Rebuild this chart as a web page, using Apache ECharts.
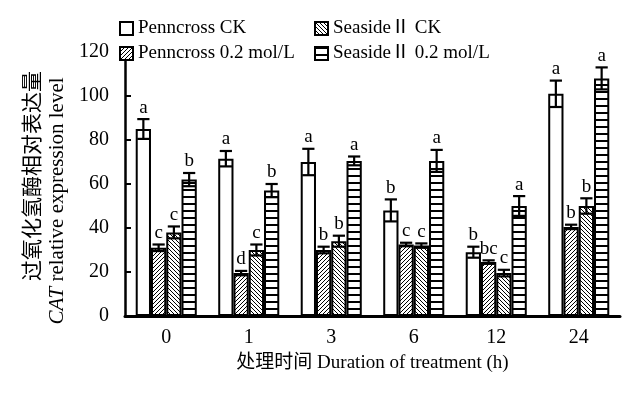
<!DOCTYPE html>
<html>
<head>
<meta charset="utf-8">
<script src="https://cdn.jsdelivr.net/npm/echarts@6/dist/echarts.min.js"></script>
<style>
  html, body { margin: 0; padding: 0; background: #fff; }
  #chart { width: 623px; height: 398px; }
</style>
</head>
<body>
<div id="chart"></div>
<script>
// 处理时间 (h)
const categories = ['0', '1', '3', '6', '12', '24'];
const seriesNames = ['Penncross CK', 'Penncross 0.2 mol/L', 'SeasideⅡ CK', 'SeasideⅡ 0.2 mol/L'];

// CAT 相对表达量
const penncrossCK = [85, 71.5, 70, 48, 29, 101];
const penncross02 = [31, 19.5, 30, 32.5, 24.5, 40.5];
const seasideCK = [38, 30, 34, 32, 19.5, 50];
const seaside02 = [62, 57, 70.5, 70.5, 50, 108];

// 误差
const penncrossCKErr = [4.5, 3.5, 6, 5, 2.5, 6];
const penncross02Err = [1.5, 1, 1.5, 0.8, 0.8, 1];
const seasideCKErr = [2.7, 2.5, 2.5, 1, 1.5, 3.5];
const seaside02Err = [3, 3, 2, 5, 4.5, 5];

// 显著性字母
const penncrossCKSig = ['a', 'a', 'a', 'b', 'b', 'a'];
const penncross02Sig = ['c', 'd', 'b', 'c', 'bc', 'b'];
const seasideCKSig = ['c', 'c', 'b', 'c', 'c', 'b'];
const seaside02Sig = ['b', 'b', 'a', 'a', 'a', 'a'];

const yTicks = [0, 20, 40, 60, 80, 100, 120];

const values = [penncrossCK, penncross02, seasideCK, seaside02];
const errs = [penncrossCKErr, penncross02Err, seasideCKErr, seaside02Err];
const sigs = [penncrossCKSig, penncross02Sig, seasideCKSig, seaside02Sig];

const serif = '"Liberation Serif", "Times New Roman", "Noto Sans CJK SC", serif';
const gapRatio = 0.26;

// 填充图案
function makePattern(kind) {
  if (kind === 'none') return '#fff';
  const s = kind === 'h' ? 7 : 4;
  const c = document.createElement('canvas');
  c.width = s; c.height = s;
  const ctx = c.getContext('2d');
  ctx.fillStyle = '#fff';
  ctx.fillRect(0, 0, s, s);
  ctx.fillStyle = '#000';
  for (let x = 0; x < s; x++) {
    for (let y = 0; y < s; y++) {
      let on = false;
      if (kind === 'fwd') on = (x + y) % s === 0;
      if (kind === 'back') on = (x - y + s) % s === 0;
      if (kind === 'h') on = y < 2;
      if (on) ctx.fillRect(x, y, 1, 1);
    }
  }
  return { image: c, repeat: 'repeat' };
}
const fills = [makePattern('none'), makePattern('fwd'), makePattern('back'), makePattern('h')];

let myChart = echarts.init(document.getElementById('chart'));

const barSeries = values.map((v, i) => ({
  name: seriesNames[i],
  type: 'bar',
  data: v,
  barGap: '0%',
  barCategoryGap: (gapRatio * 100) + '%',
  itemStyle: { color: fills[i], borderColor: '#000', borderWidth: 2 }
}));

const errSeries = values.map((v, s) => ({
  type: 'custom',
  z: 5,
  silent: true,
  data: v.map((val, i) => [i, val, errs[s][i]]),
  renderItem: function (params, api) {
    const ci = api.value(0), val = api.value(1), err = api.value(2);
    const center = api.coord([ci, 0])[0];
    const band = api.size([1, 0])[0];
    const groupW = band * (1 - gapRatio);
    const bw = groupW / 4;
    const x = center - groupW / 2 + bw * (s + 0.5);
    const yHi = api.coord([ci, val + err])[1];
    const yLo = api.coord([ci, val - err])[1];
    const half = bw * 0.4;
    const st = { stroke: '#000', lineWidth: 2.2 };
    return {
      type: 'group',
      children: [
        { type: 'line', shape: { x1: x, y1: yHi, x2: x, y2: yLo }, style: st },
        { type: 'line', shape: { x1: x - half, y1: yHi, x2: x + half, y2: yHi }, style: st },
        { type: 'line', shape: { x1: x - half, y1: yLo, x2: x + half, y2: yLo }, style: st },
        {
          type: 'text',
          style: {
            x: x, y: yHi - 2, text: sigs[s][params.dataIndex],
            textAlign: 'center', textVerticalAlign: 'bottom',
            font: '19px ' + serif, fill: '#000'
          }
        }
      ]
    };
  }
}));

const legendText = { fontFamily: serif, fontSize: 19, color: '#000' };

myChart.setOption({
  animation: false,
  grid: { left: 125, right: 3, top: 52, bottom: 82 },
  legend: [
    {
      data: seriesNames.slice(0, 2), orient: 'vertical', left: 114, top: 14,
      icon: 'rect', itemWidth: 13, itemHeight: 13, itemGap: 6, textStyle: legendText, selectedMode: false
    },
    {
      data: seriesNames.slice(2), orient: 'vertical', left: 309, top: 14,
      icon: 'rect', itemWidth: 13, itemHeight: 13, itemGap: 6, textStyle: legendText, selectedMode: false
    }
  ],
  xAxis: {
    type: 'category',
    data: categories,
    name: '处理时间 Duration of treatment (h)',
    nameLocation: 'middle',
    nameGap: 38,
    nameTextStyle: { fontFamily: serif, fontSize: 19, color: '#000' },
    axisLine: { lineStyle: { color: '#000', width: 3 } },
    axisTick: { inside: true, length: 5, lineStyle: { color: '#000', width: 2 } },
    axisLabel: { margin: 12, fontFamily: serif, fontSize: 20, color: '#000' }
  },
  yAxis: {
    type: 'value',
    min: yTicks[0],
    max: yTicks[yTicks.length - 1],
    interval: 20,
    name: '{zh|过氧化氢酶相对表达量}\n{it|CAT}{en| relative expression level}',
    nameLocation: 'middle',
    nameGap: 53,
    nameRotate: 90,
    nameTextStyle: {
      rich: {
        zh: { fontFamily: '"Noto Sans CJK SC"', fontSize: 21, color: '#000', lineHeight: 27, padding: [0, 0, 0, 16] },
        it: { fontFamily: serif, fontSize: 21, fontStyle: 'italic', color: '#000', lineHeight: 27 },
        en: { fontFamily: serif, fontSize: 21, color: '#000', lineHeight: 27, padding: [0, 34, 0, 0] }
      }
    },
    axisLine: { show: true, lineStyle: { color: '#000', width: 2.5 } },
    axisTick: { show: true, inside: true, length: 6, lineStyle: { color: '#000', width: 2 } },
    axisLabel: { margin: 16, fontFamily: serif, fontSize: 20, color: '#000' },
    splitLine: { show: false }
  },
  series: barSeries.concat(errSeries)
});
</script>
</body>
</html>
